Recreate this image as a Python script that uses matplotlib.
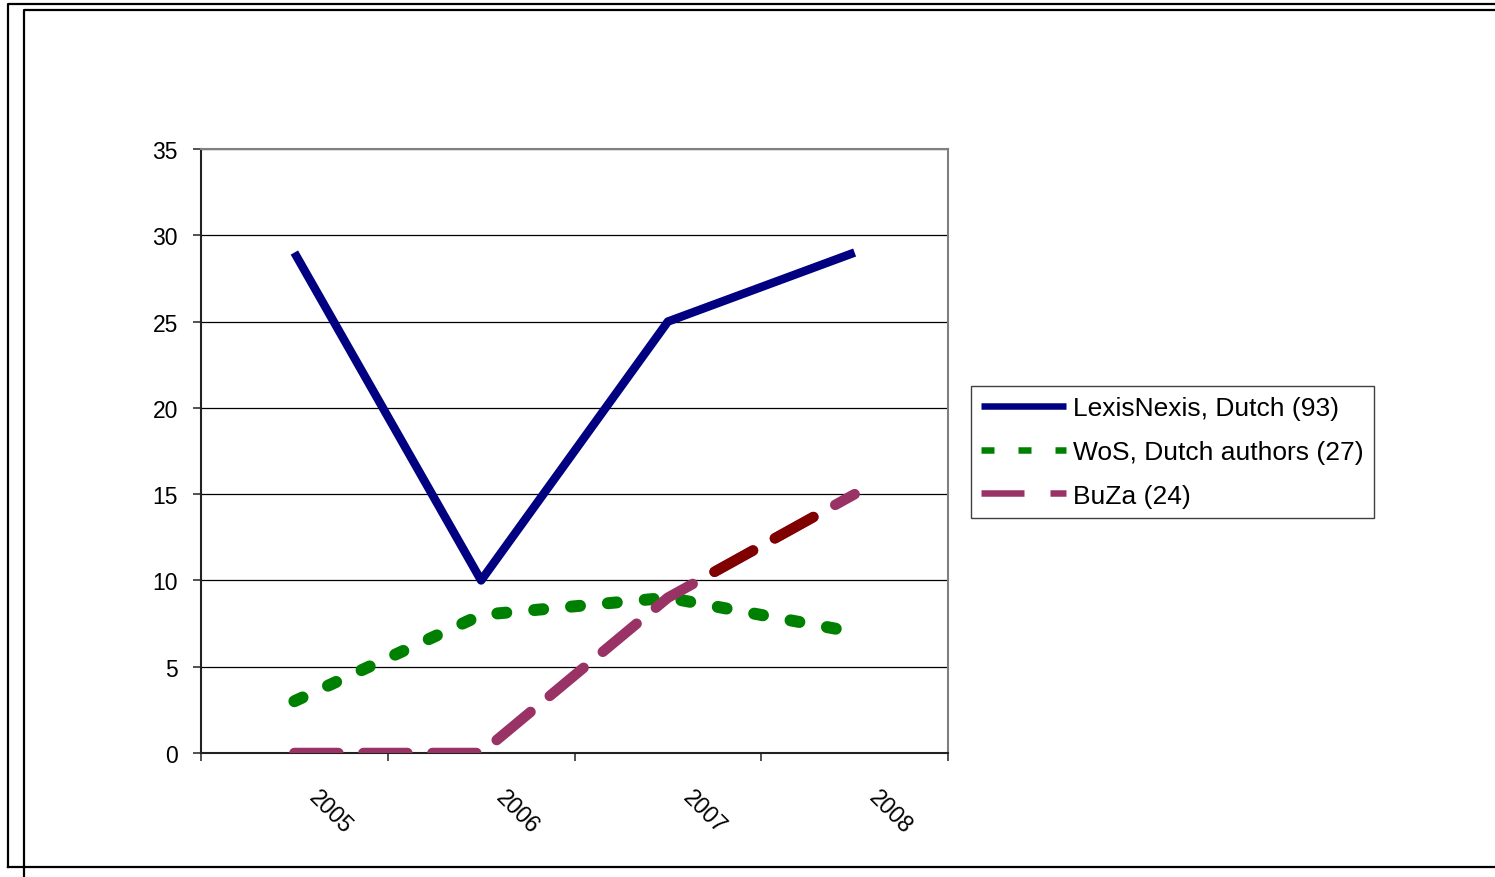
import matplotlib
matplotlib.use('Agg')
import matplotlib.pyplot as plt
import matplotlib.transforms as mtransforms
from matplotlib.lines import Line2D
from matplotlib.patches import Rectangle

# data
years = ['2005', '2006', '2007', '2008']
lexis = [29, 10, 25, 29]
wos = [3, 8, 9, 7]
buza = [0, 0, 9, 15]
series_labels = ['LexisNexis, Dutch (93)', 'WoS, Dutch authors (27)', 'BuZa (24)']
yticks = [0, 5, 10, 15, 20, 25, 30, 35]

plt.rcParams['font.family'] = ['Liberation Sans', 'DejaVu Sans']
plt.rcParams['lines.scale_dashes'] = False

PX = 0.72  # points per pixel at dpi 100
W, H = 1495, 878

fig = plt.figure(figsize=(W / 100, H / 100), dpi=100)

# outer frames (Excel chart area borders)
def fline(xs, ys):
    fig.add_artist(Line2D([v / W for v in xs], [1 - v / H for v in ys],
                          transform=fig.transFigure, color='black', lw=1.6))

fline([8, 8, W + 5], [868, 5, 5])
fline([8, W + 5], [868, 868])
fline([24, 24, W + 5], [H + 5, 11, 11])

ax = fig.add_axes([201 / W, (H - 754) / H, 747 / W, 604 / H])
x = list(range(len(years)))

ax.plot(x, lexis, color='#000080', lw=8.5 * PX, solid_capstyle='butt',
        solid_joinstyle='round', zorder=3)
ax.plot(x, wos, color='#008000', lw=12 * PX, linestyle=(0, (9 * PX, 28 * PX)),
        dash_capstyle='round', zorder=4)
ax.plot(x, buza, color='#993366', lw=10.5 * PX, linestyle=(0, (44 * PX, 25 * PX)),
        dash_capstyle='round', zorder=5)
# two dashes of the last BuZa segment are dark red in the original
red = ax.plot(x, buza, color='#800000', lw=10.5 * PX, linestyle=(0, (44 * PX, 25 * PX)),
              dash_capstyle='round', zorder=6)[0]
red.set_clip_path(Rectangle((2.17, -5), 0.664, 45, transform=ax.transData))

ax.set_xlim(-0.5, len(years) - 0.5)
ax.set_ylim(0, 35)
ax.set_yticks(yticks)
ax.set_yticklabels([str(v) for v in yticks])
ax.yaxis.grid(True, color='black', lw=0.9)
ax.set_axisbelow(True)

ax.set_xticks([i - 0.5 for i in range(len(years) + 1)])
ax.set_xticklabels([])
ax.set_xticks(x, minor=True)
ax.set_xticklabels(years, minor=True, rotation=-45, ha='left', va='top', fontsize=16.5)
ax.tick_params(axis='x', which='major', direction='out', length=8 * PX, width=1.2, color='#333333')
ax.tick_params(axis='x', which='minor', length=0, pad=32 * PX)
ax.tick_params(axis='y', direction='out', length=8 * PX, width=1.2, color='#333333',
               pad=15 * PX, labelsize=16.5)
offset = mtransforms.ScaledTranslation(10 / 100, 0, fig.dpi_scale_trans)
for lab in ax.get_xticklabels(minor=True):
    lab.set_transform(lab.get_transform() + offset)

for side in ['left', 'bottom']:
    ax.spines[side].set_color('#222222')
    ax.spines[side].set_linewidth(1.5)
for side in ['top', 'right']:
    ax.spines[side].set_color('#808080')
    ax.spines[side].set_linewidth(1.5)

handles = [
    Line2D([], [], color='#000080', lw=6.5 * PX, solid_capstyle='butt'),
    Line2D([], [], color='#008000', lw=6.5 * PX, linestyle=(0, (13 * PX, 24 * PX)), dash_capstyle='butt'),
    Line2D([], [], color='#993366', lw=6.5 * PX, linestyle=(0, (43 * PX, 26 * PX)), dash_capstyle='butt'),
]
leg = fig.legend(handles, series_labels, loc='upper left',
                 bbox_to_anchor=(971 / W, 1 - 387 / H), bbox_transform=fig.transFigure,
                 fontsize=19, handlelength=85 * PX / 19, handletextpad=7 * PX / 19,
                 borderpad=0.38, labelspacing=0.75, borderaxespad=0,
                 fancybox=False, framealpha=1, edgecolor='#404040')
leg.get_frame().set_linewidth(1.0)

fig.savefig('out.png', dpi=100)
